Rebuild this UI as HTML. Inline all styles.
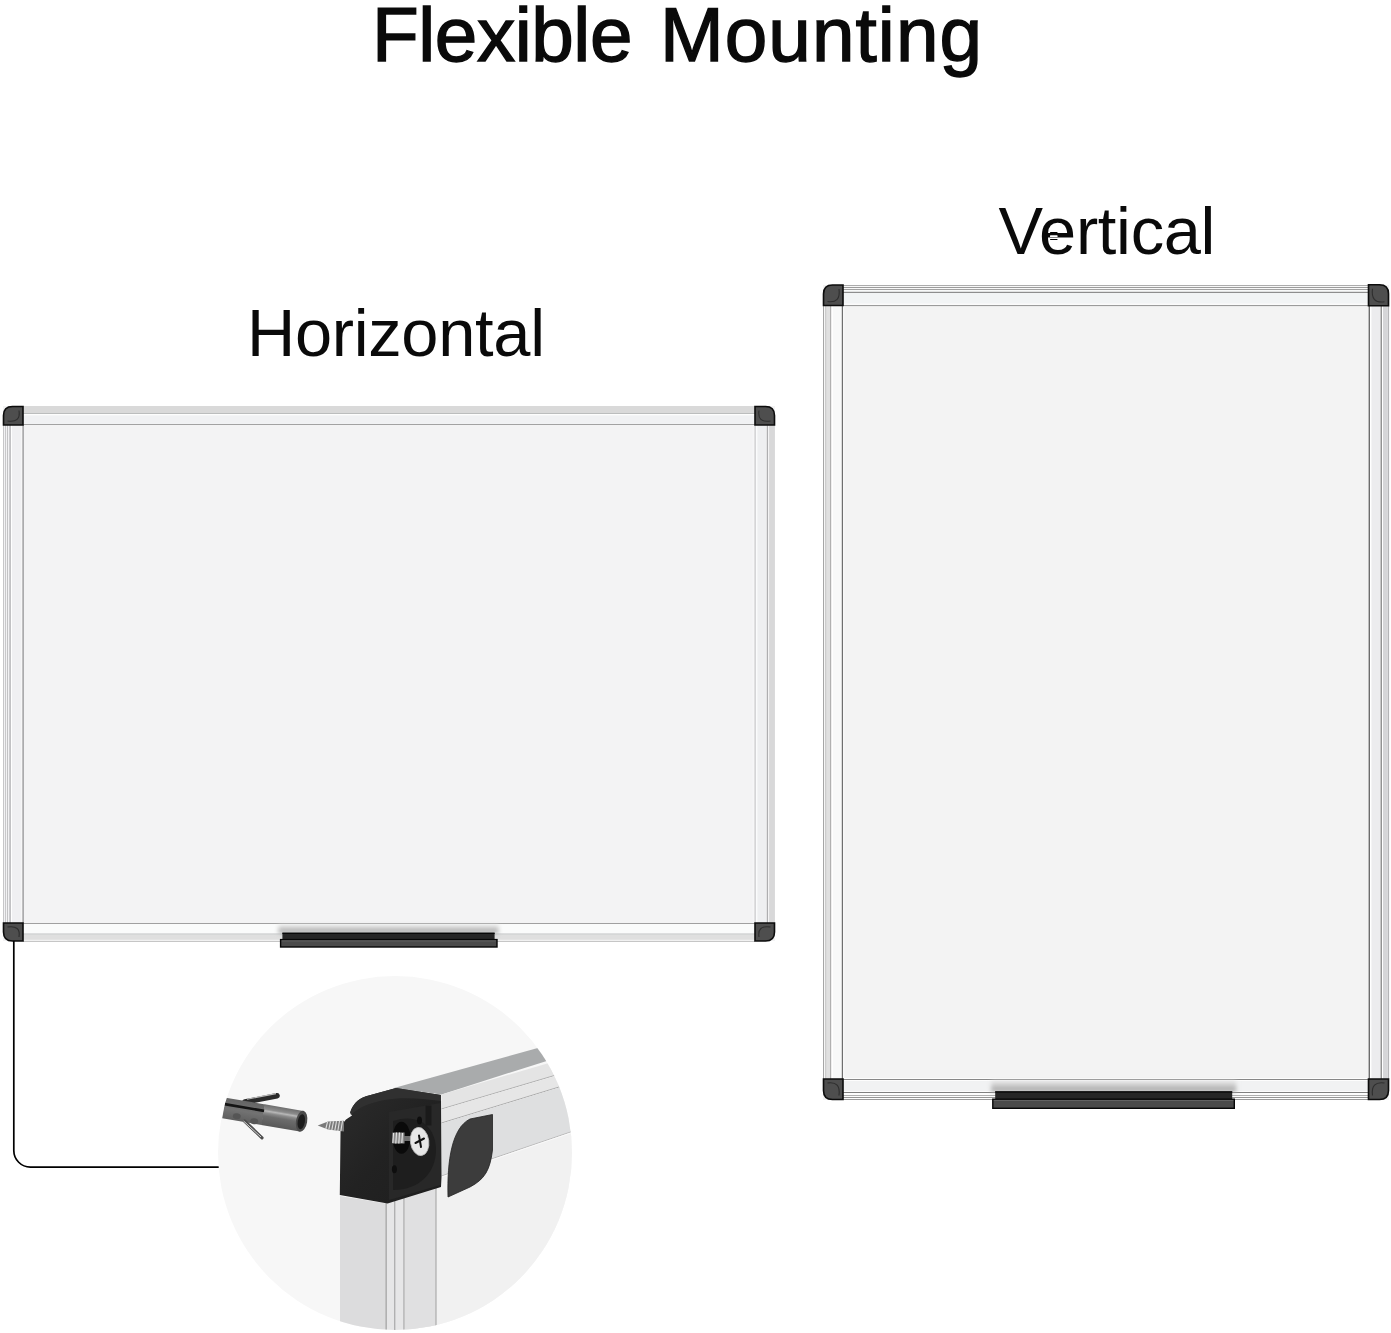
<!DOCTYPE html>
<html><head><meta charset="utf-8">
<style>
html,body{margin:0;padding:0;background:#fff;}
body{width:1391px;height:1333px;position:relative;overflow:hidden;font-family:"Liberation Sans",sans-serif;color:#0a0a0a;}
.t{position:absolute;white-space:pre;line-height:1;}
.ti{top:-3.5px;font-size:76.5px;letter-spacing:-0.45px;-webkit-text-stroke:1.4px #0a0a0a;}
#t1{left:372px;}
#t2{left:660px;letter-spacing:1.05px;}
#hor{left:247px;top:299.5px;font-size:66.8px;letter-spacing:-0.3px;}
#ver{left:998.5px;top:198px;font-size:66.8px;letter-spacing:-0.3px;}
svg{position:absolute;left:0;top:0;}
</style></head>
<body>
<div class="t ti" id="t1">Flexible</div>
<div class="t ti" id="t2">Mounting</div>
<div class="t" id="hor">Horizontal</div>
<div class="t" id="ver">Vertical</div>
<svg width="1391" height="1333" viewBox="0 0 1391 1333">
<defs>
<linearGradient id="shd" x1="0" y1="0" x2="0" y2="1"><stop offset="0" stop-color="#e8e8e8"/><stop offset="0.5" stop-color="#c4c4c4"/><stop offset="1" stop-color="#9c9c9c"/></linearGradient>
<filter id="bl2" x="-10%" y="-50%" width="120%" height="200%"><feGaussianBlur stdDeviation="2"/></filter>
<clipPath id="cc"><circle cx="395" cy="1153" r="177"/></clipPath>
</defs>
<g id="hb"><rect x="3" y="406" width="772" height="535" fill="#f3f3f4"/><rect x="23" y="406" width="732" height="7.5" fill="#d9d9d9"/><rect x="23" y="413" width="732" height="1" fill="#bbbdbd"/><rect x="23" y="414" width="732" height="1.5" fill="#fdfdfd"/><rect x="23" y="415.5" width="732" height="8" fill="#f0f1f3"/><rect x="23" y="424" width="732" height="1" fill="#a2a2a2"/><rect x="23" y="923" width="732" height="1" fill="#a0a0a0"/><rect x="23" y="924" width="732" height="9.5" fill="#fafbfb"/><rect x="23" y="933.5" width="732" height="1.2" fill="#c4c6c6"/><rect x="23" y="934.7" width="732" height="5.2" fill="#dfdfdf"/><rect x="23" y="939.9" width="732" height="1" fill="#f8f8f8"/><rect x="23" y="940.9" width="732" height="1" fill="#c0c0c0"/><rect x="3" y="425" width="9" height="498" fill="#f2f2f4"/><rect x="3" y="425" width="1" height="498" fill="#c6c6c8"/><rect x="5" y="425" width="1" height="498" fill="#c8c8ca"/><rect x="7" y="425" width="1" height="498" fill="#c2c2c4"/><rect x="9.3" y="425" width="1.6" height="498" fill="#bdbdbf"/><rect x="11" y="425" width="1" height="498" fill="#ffffff"/><rect x="12" y="425" width="9.5" height="498" fill="#f0f0f2"/><rect x="21.5" y="425" width="1" height="498" fill="#fcfcfc"/><rect x="22.4" y="425" width="1.4" height="498" fill="#9a9a9c"/><rect x="752.5" y="425" width="2" height="498" fill="#f6f6f7"/><rect x="754.6" y="425" width="1.2" height="498" fill="#c2c2c4"/><rect x="755.8" y="425" width="1.8" height="498" fill="#fafbfc"/><rect x="757.6" y="425" width="9" height="498" fill="#eeeff1"/><rect x="766.8" y="425" width="1.3" height="498" fill="#aeaeb0"/><rect x="768.1" y="425" width="1" height="498" fill="#f4f4f4"/><rect x="769.1" y="425" width="5.8" height="498" fill="#d8d8d9"/><path d="M3.5 425.0 V415.5 Q3.5 406.5 12.5 406.5 H23.0 V425.0 Z" fill="#4e4e4e" stroke="#0c0c0c" stroke-width="1.6"/><path d="M7.5 421.0 Q21.0 423.0 19.0 410.5" fill="none" stroke="#2e2e2e" stroke-width="1.1"/><path d="M755 425.0 V406.5 H765.5 Q774.5 406.5 774.5 415.5 V425.0 Z" fill="#4e4e4e" stroke="#0c0c0c" stroke-width="1.6"/><path d="M759 410.5 Q757 423.0 770.5 421.0" fill="none" stroke="#2e2e2e" stroke-width="1.1"/><path d="M3.5 923 H23.0 V941 H12.5 Q3.5 941 3.5 932 Z" fill="#4e4e4e" stroke="#0c0c0c" stroke-width="1.6"/><path d="M7.5 927 Q21.0 925 19.0 937" fill="none" stroke="#2e2e2e" stroke-width="1.1"/><path d="M755 923 H774.5 V932 Q774.5 941 765.5 941 H755 Z" fill="#4e4e4e" stroke="#0c0c0c" stroke-width="1.6"/><path d="M759 937 Q757 925 770.5 927" fill="none" stroke="#2e2e2e" stroke-width="1.1"/><rect x="278.4" y="925" width="220.20000000000005" height="8.200000000000045" fill="url(#shd)" filter="url(#bl2)"/><rect x="282.4" y="932.7" width="212.20000000000005" height="6.899999999999977" fill="#262626"/><rect x="282.4" y="932.7" width="212.20000000000005" height="1.3" fill="#080808"/><rect x="280.6" y="939.6" width="216.39999999999998" height="7.399999999999977" fill="#4a4a4a" stroke="#070707" stroke-width="1.4"/><rect x="281.6" y="940.4" width="214.39999999999998" height="1" fill="#626262"/></g>
<g id="vb"><rect x="823" y="285" width="566" height="815" fill="#f3f3f3"/><rect x="843" y="285" width="525" height="1" fill="#acacac"/><rect x="843" y="286" width="525" height="1" fill="#f8f8f8"/><rect x="843" y="287" width="525" height="1" fill="#9c9c9c"/><rect x="843" y="288" width="525" height="1" fill="#f8f8f8"/><rect x="843" y="289" width="525" height="1" fill="#a2a2a2"/><rect x="843" y="290" width="525" height="1.8" fill="#f8f9f9"/><rect x="843" y="291.8" width="525" height="1.2" fill="#8e8e8e"/><rect x="843" y="293" width="525" height="10.5" fill="#f2f4f5"/><rect x="843" y="303.5" width="525" height="1.8" fill="#fbfbfb"/><rect x="843" y="305.3" width="525" height="1" fill="#767676"/><rect x="843" y="306.3" width="525" height="0.7" fill="#f8f8f8"/><rect x="843" y="1078" width="525" height="1" fill="#fdfdfd"/><rect x="843" y="1079" width="525" height="1" fill="#878787"/><rect x="843" y="1080" width="525" height="1" fill="#fdfdfd"/><rect x="843" y="1081" width="525" height="10" fill="#f1f2f3"/><rect x="843" y="1091" width="525" height="1" fill="#fcfcfc"/><rect x="843" y="1092" width="525" height="1" fill="#808080"/><rect x="843" y="1093" width="525" height="2" fill="#fdfdfd"/><rect x="843" y="1095" width="525" height="1" fill="#b0b0b0"/><rect x="843" y="1096" width="525" height="1" fill="#fdfdfd"/><rect x="843" y="1097" width="525" height="1" fill="#959595"/><rect x="843" y="1098" width="525" height="1" fill="#fdfdfd"/><rect x="843" y="1099" width="525" height="1" fill="#9a9a9a"/><rect x="823" y="306" width="1.2" height="773" fill="#a6a6a6"/><rect x="824.2" y="306" width="1" height="773" fill="#fafafa"/><rect x="825.2" y="306" width="5" height="773" fill="#e0e0e0"/><rect x="825.2" y="306" width="1" height="773" fill="#c6c6c6"/><rect x="830.2" y="306" width="1.2" height="773" fill="#a2a2a2"/><rect x="831.4" y="306" width="1.6" height="773" fill="#ffffff"/><rect x="833" y="306" width="8.6" height="773" fill="#f8f9f9"/><rect x="841.8" y="306" width="1.4" height="773" fill="#6e6e6e"/><rect x="843.2" y="306" width="1" height="773" fill="#ffffff"/><rect x="1368.6" y="306" width="1.4" height="773" fill="#6c6c6c"/><rect x="1370" y="306" width="1.6" height="773" fill="#ffffff"/><rect x="1371.6" y="306" width="8.8" height="773" fill="#ececee"/><rect x="1380.6" y="306" width="1.3" height="773" fill="#888888"/><rect x="1382" y="306" width="1" height="773" fill="#ffffff"/><rect x="1383" y="306" width="4.7" height="773" fill="#d6d6d8"/><rect x="1387.9" y="306" width="1.2" height="773" fill="#b4b4b6"/><path d="M823.5 305.5 V294 Q823.5 285 832.5 285 H843.0 V305.5 Z" fill="#4e4e4e" stroke="#0c0c0c" stroke-width="1.6"/><path d="M827.5 301.5 Q841.0 303.5 839.0 289" fill="none" stroke="#2e2e2e" stroke-width="1.1"/><path d="M1368.5 305.8 V284.8 H1379.5 Q1388.5 284.8 1388.5 293.8 V305.8 Z" fill="#4e4e4e" stroke="#0c0c0c" stroke-width="1.6"/><path d="M1372.5 288.8 Q1370.5 303.8 1384.5 301.8" fill="none" stroke="#2e2e2e" stroke-width="1.1"/><path d="M823.5 1079 H843.0 V1099.5 H832.5 Q823.5 1099.5 823.5 1090.5 Z" fill="#4e4e4e" stroke="#0c0c0c" stroke-width="1.6"/><path d="M827.5 1083 Q841.0 1081 839.0 1095.5" fill="none" stroke="#2e2e2e" stroke-width="1.1"/><path d="M1368.5 1079 H1388.5 V1090.5 Q1388.5 1099.5 1379.5 1099.5 H1368.5 Z" fill="#4e4e4e" stroke="#0c0c0c" stroke-width="1.6"/><path d="M1372.5 1095.5 Q1370.5 1081 1384.5 1083" fill="none" stroke="#2e2e2e" stroke-width="1.1"/><rect x="991.2" y="1081" width="245.0" height="10.799999999999955" fill="url(#shd)" filter="url(#bl2)"/><rect x="995.2" y="1091.3" width="237.0" height="7.900000000000091" fill="#262626"/><rect x="995.2" y="1091.3" width="237.0" height="1.3" fill="#080808"/><rect x="992.8" y="1099.2" width="241.5" height="9.099999999999909" fill="#4a4a4a" stroke="#070707" stroke-width="1.4"/><rect x="993.8" y="1100.0" width="239.5" height="1" fill="#626262"/></g>
<rect x="1050" y="232" width="7.6" height="1.2" rx="0.6" fill="#000"/><rect x="1050" y="235.2" width="7.6" height="1.8" rx="0.6" fill="#fff"/><rect x="1050" y="238.9" width="7.6" height="1.2" rx="0.6" fill="#000"/>
<path d="M13.8 941 V1150.5 A16.6 16.6 0 0 0 30.4 1167.1 H219.5" fill="none" stroke="#000" stroke-width="1.7"/>
<g id="detail">
<circle cx="395" cy="1153" r="177" fill="#f7f7f7"/>
<g clip-path="url(#cc)"><!-- board surface region right of vertical frame & below horizontal frame -->
<polygon points="437,1176 600,1120 600,1340 437,1340" fill="#f1f1f1"/>
<!-- horizontal frame: top face -->
<polygon points="394,1088 536,1048.5 600,1032 600,1044 441.5,1094.4" fill="#a9abac"/>
<!-- front face strips -->
<polygon points="441.5,1094.4 600,1048 600,1062 441.5,1109" fill="#e4e4e4"/>
<line x1="441.5" y1="1109" x2="600" y2="1062" stroke="#a8a8a8" stroke-width="0.9"/>
<polygon points="441.5,1109.6 600,1062.6 600,1074 441.5,1123" fill="#e6e6e6"/>
<line x1="441.5" y1="1123" x2="600" y2="1074.5" stroke="#a0a0a0" stroke-width="0.9"/>
<polygon points="441.5,1123.6 600,1075 600,1122 441.5,1176" fill="#dedfe0"/>
<line x1="441.5" y1="1176" x2="600" y2="1122" stroke="#b4b4b4" stroke-width="0.9"/>
<line x1="441.5" y1="1177" x2="600" y2="1123" stroke="#fafafa" stroke-width="0.9"/>
<!-- leaf cap -->
<path d="M448,1197 C447,1160 452,1128 470,1119 L492.5,1114.5 L492.5,1150 C490,1170 485,1179 470,1187 Z" fill="#3c3c3c" stroke="#222" stroke-width="0.8"/>
<!-- vertical frame -->
<polygon points="340,1196 386,1203.5 386,1340 340,1340" fill="#dcdcdd"/>
<polygon points="386,1203.5 436,1182 436,1340 386,1340" fill="#e6e6e7"/>
<polygon points="405,1196 435.5,1183 435.5,1340 405,1340" fill="#e0e0e1"/>
<rect x="385.6" y="1200" width="1.1" height="140" fill="#9a9a9a"/>
<rect x="394.2" y="1197" width="1.1" height="143" fill="#a4a4a4"/>
<rect x="403.4" y="1194" width="1.1" height="146" fill="#a4a4a4"/>
<rect x="435.4" y="1182" width="1.2" height="158" fill="#aaaaaa"/>
<!-- black block -->
<defs>
<linearGradient id="blk" x1="0" y1="0" x2="1" y2="1">
<stop offset="0" stop-color="#2c2c2c"/><stop offset="0.5" stop-color="#222"/><stop offset="1" stop-color="#1e1e1e"/>
</linearGradient>
</defs>
<path d="M339.8,1195 L340.6,1126 L346,1119.5 L352,1115.6 L350.2,1112.6 C352.5,1105 357,1099.5 366,1096.3 L396,1088 L441,1095 L441.5,1177 L441,1187 L387.6,1203.5 Z" fill="url(#blk)"/>
<path d="M350.2,1112.6 C352.5,1105 357,1099.5 366,1096.3 L396,1088 L441,1095 L441,1101 C420,1098 400,1097 385,1100 C368,1103 358,1108 351,1115 Z" fill="#303030"/>
<!-- side panel -->
<polygon points="389,1112 440.5,1103 440.5,1185 389,1200" fill="#282828"/>
<!-- recess -->
<path d="M393,1121 C420,1112 436,1128 436,1150 C436,1172 420,1190 393,1190 Z" fill="#1e1e1e"/>
<rect x="425.5" y="1105.5" width="6" height="20" fill="#1a1a1a"/>
<!-- holes -->
<ellipse cx="419.5" cy="1120.5" rx="2.5" ry="4" fill="#0e0e0e"/>
<ellipse cx="394.4" cy="1169.3" rx="2.5" ry="4" fill="#0e0e0e"/>
<!-- screw hole -->
<ellipse cx="401.5" cy="1137.8" rx="9" ry="16" fill="#0a0a0a"/>
<!-- threads -->
<rect x="392.5" y="1132.5" width="12" height="11" fill="#8a8a8a"/>
<g stroke="#e6e6e6" stroke-width="1.1">
<line x1="393.5" y1="1133" x2="392.8" y2="1143"/>
<line x1="396.5" y1="1132.5" x2="395.8" y2="1143.5"/>
<line x1="399.5" y1="1132.5" x2="398.8" y2="1143.5"/>
<line x1="402.5" y1="1133" x2="401.8" y2="1143"/>
</g>
<rect x="404" y="1136" width="7" height="5" fill="#6e6e6e"/>
<!-- screw head -->
<ellipse cx="419.6" cy="1141.5" rx="9.2" ry="14.2" fill="#e6e6e6" stroke="#bdbdbd" stroke-width="0.8" transform="rotate(-8 419.6 1141.5)"/>
<g stroke="#111" stroke-width="2" stroke-linecap="round">
<line x1="419" y1="1135.5" x2="421" y2="1147"/>
<line x1="415.5" y1="1143" x2="424" y2="1138.5"/>
</g>
<!-- wood screw -->
<polygon points="317.7,1125.5 328,1121.5 344,1120.8 344,1131.5 328,1129.5" fill="#7a7a7a"/>
<g stroke="#e0e0e0" stroke-width="1.1">
<line x1="327.5" y1="1121.8" x2="325.8" y2="1129"/>
<line x1="330.5" y1="1121.5" x2="328.8" y2="1129.5"/>
<line x1="333.5" y1="1121.3" x2="331.8" y2="1130"/>
<line x1="336.5" y1="1121.2" x2="334.8" y2="1130.5"/>
<line x1="339.5" y1="1121" x2="337.8" y2="1131"/>
<line x1="342.5" y1="1121" x2="340.8" y2="1131.2"/>
</g>
<!-- plug -->
<defs>
<linearGradient id="cyl" x1="0" y1="0" x2="0" y2="1">
<stop offset="0" stop-color="#6e6e6e"/><stop offset="0.22" stop-color="#8c8c8c"/><stop offset="0.3" stop-color="#b8b8b8"/><stop offset="0.4" stop-color="#8a8a8a"/><stop offset="0.55" stop-color="#6c6c6c"/><stop offset="1" stop-color="#585858"/>
</linearGradient>
<linearGradient id="cyl2" x1="0" y1="0" x2="0" y2="1">
<stop offset="0" stop-color="#646464"/><stop offset="0.5" stop-color="#727272"/><stop offset="1" stop-color="#5e5e5e"/>
</linearGradient>
</defs>
<line x1="245" y1="1102" x2="277" y2="1095.8" stroke="#2a2a2a" stroke-width="5.6" stroke-linecap="round"/>
<line x1="247" y1="1099.2" x2="276" y2="1093.6" stroke="#bdbdbd" stroke-width="1.1"/>
<g transform="translate(224 1108) rotate(9.7)">
<rect x="0" y="-10.5" width="40" height="21" fill="url(#cyl2)"/>
<rect x="39.5" y="-10.5" width="39.2" height="21" fill="url(#cyl)"/>
<rect x="0" y="-5.2" width="40" height="2.6" fill="#141414"/>
<ellipse cx="14" cy="6" rx="4" ry="3" fill="#555"/>
<ellipse cx="32" cy="8" rx="4" ry="3" fill="#555"/>
<ellipse cx="78.7" cy="0" rx="5.6" ry="10.6" fill="#4a4a4a"/>
<ellipse cx="78.5" cy="0.5" rx="3.6" ry="7.6" fill="#1c1c1c"/>
</g>
<line x1="244.5" y1="1121" x2="262" y2="1137.8" stroke="#4e4e4e" stroke-width="3.2" stroke-linecap="round"/>
<line x1="243.5" y1="1121" x2="261" y2="1137" stroke="#d4d4d4" stroke-width="1"/>
</g>
</g>
</svg>
</body></html>
